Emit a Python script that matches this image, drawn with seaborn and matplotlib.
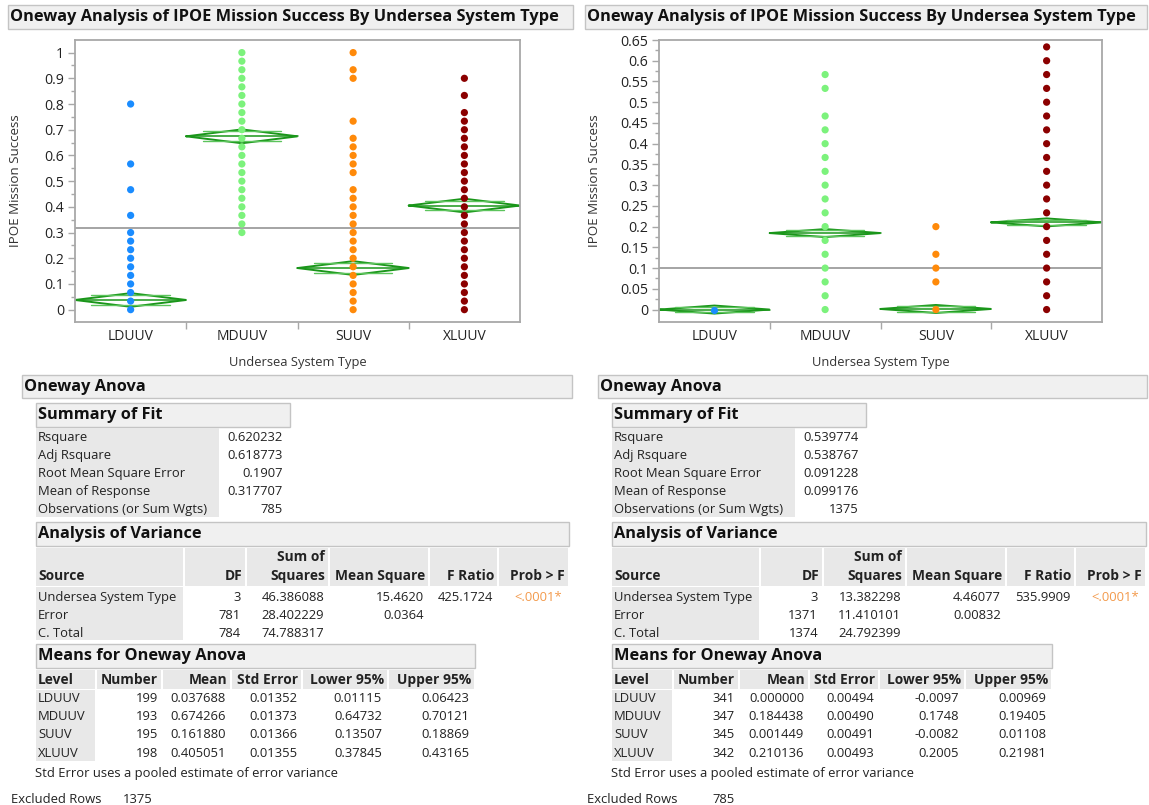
import numpy as np
import pandas as pd
import matplotlib
matplotlib.use("Agg")
import matplotlib.pyplot as plt
import seaborn as sns
from matplotlib.patches import Rectangle

sns.set_theme(style="white")
plt.rcParams['font.family'] = ['Open Sans', 'DejaVu Sans']

# ---------------- data ----------------
levels = ["LDUUV", "MDUUV", "SUUV", "XLUUV"]
dot_colors = ["#1a8cff", "#7cf27c", "#ff8a0a", "#8b0000"]

# left chart: distinct observed values per level
left_ld = [0, 0.0333, 0.0667, 0.1, 0.1333, 0.1667, 0.2, 0.2333, 0.2667, 0.3,
           0.3667, 0.4667, 0.5667, 0.8]
left_md = [0.3, 0.3333, 0.3667, 0.4, 0.4333, 0.4667, 0.5, 0.5333, 0.5667, 0.6,
           0.6333, 0.6667, 0.7, 0.7333, 0.7667, 0.8, 0.8333, 0.8667, 0.9, 0.9333,
           0.9667, 1.0]
left_su = [0, 0.0333, 0.0667, 0.1, 0.1333, 0.1667, 0.2, 0.2333, 0.2667, 0.3,
           0.3333, 0.3667, 0.4, 0.4333, 0.4667, 0.5333, 0.5667, 0.6, 0.6333,
           0.6667, 0.7333, 0.9, 0.9333, 1.0]
left_xl = [0, 0.0333, 0.0667, 0.1, 0.1333, 0.1667, 0.2, 0.2333, 0.2667, 0.3,
           0.3333, 0.3667, 0.4, 0.4333, 0.4667, 0.5, 0.5333, 0.5667, 0.6, 0.6333,
           0.6667, 0.7, 0.7333, 0.7667, 0.8333, 0.9]
left_mean = [0.037688, 0.674266, 0.161880, 0.405051]
left_lower = [0.01115, 0.64732, 0.13507, 0.37845]
left_upper = [0.06423, 0.70121, 0.18869, 0.43165]
left_grand_mean = 0.317707

# right chart
right_ld = [0]
right_md = [0, 0.0333, 0.0667, 0.1, 0.1333, 0.1667, 0.2, 0.2333, 0.2667, 0.3,
            0.3333, 0.3667, 0.4, 0.4333, 0.4667, 0.5333, 0.5667]
right_su = [0, 0.0667, 0.1, 0.1333, 0.2]
right_xl = [0, 0.0333, 0.0667, 0.1, 0.1333, 0.1667, 0.2, 0.2333, 0.2667, 0.3,
            0.3333, 0.3667, 0.4, 0.4333, 0.4667, 0.5, 0.5333, 0.5667, 0.6, 0.6333]
right_mean = [0.000000, 0.184438, 0.001449, 0.210136]
right_lower = [-0.0097, 0.1748, -0.0082, 0.2005]
right_upper = [0.00969, 0.19405, 0.01108, 0.21981]
right_grand_mean = 0.099176

left_yticks = [0, 0.1, 0.2, 0.3, 0.4, 0.5, 0.6, 0.7, 0.8, 0.9, 1]
left_ylabels = ["0", "0.1", "0.2", "0.3", "0.4", "0.5", "0.6", "0.7", "0.8", "0.9", "1"]
right_yticks = [0, 0.05, 0.1, 0.15, 0.2, 0.25, 0.3, 0.35, 0.4, 0.45, 0.5, 0.55, 0.6, 0.65]
right_ylabels = ["0", "0.05", "0.1", "0.15", "0.2", "0.25", "0.3", "0.35", "0.4",
                 "0.45", "0.5", "0.55", "0.6", "0.65"]

title_text = "Oneway Analysis of IPOE Mission Success By Undersea System Type"
y_title = "IPOE Mission Success"
x_title = "Undersea System Type"

fit_labels = ["Rsquare", "Adj Rsquare", "Root Mean Square Error", "Mean of Response",
              "Observations (or Sum Wgts)"]
left_fit = ["0.620232", "0.618773", "0.1907", "0.317707", "785"]
right_fit = ["0.539774", "0.538767", "0.091228", "0.099176", "1375"]

anova_sources = ["Undersea System Type", "Error", "C. Total"]
left_df = ["3", "781", "784"]
left_ss = ["46.386088", "28.402229", "74.788317"]
left_ms = ["15.4620", "0.0364", ""]
left_f = ["425.1724", "", ""]
left_p = ["<.0001*", "", ""]
right_df = ["3", "1371", "1374"]
right_ss = ["13.382298", "11.410101", "24.792399"]
right_ms = ["4.46077", "0.00832", ""]
right_f = ["535.9909", "", ""]
right_p = ["<.0001*", "", ""]

left_number = ["199", "193", "195", "198"]
left_mean_s = ["0.037688", "0.674266", "0.161880", "0.405051"]
left_se = ["0.01352", "0.01373", "0.01366", "0.01355"]
left_lo_s = ["0.01115", "0.64732", "0.13507", "0.37845"]
left_up_s = ["0.06423", "0.70121", "0.18869", "0.43165"]
right_number = ["341", "347", "345", "342"]
right_mean_s = ["0.000000", "0.184438", "0.001449", "0.210136"]
right_se = ["0.00494", "0.00490", "0.00491", "0.00493"]
right_lo_s = ["-0.0097", "0.1748", "-0.0082", "0.2005"]
right_up_s = ["0.00969", "0.19405", "0.01108", "0.21981"]

left_excluded = "1375"
right_excluded = "785"

# ---------------- figure helpers ----------------
W, H = 1149, 805
fig = plt.figure(figsize=(W / 100, H / 100), dpi=100)
fig.patch.set_facecolor("white")

TXT = "#222222"
HDR_FILL = "#f0f0f0"
HDR_EDGE = "#c4c4c4"
CELL_FILL = "#e8e8e8"
DGREEN = "#1a961a"
LGREEN = "#5cc45c"


def fx(x):
    return x / W


def fy(y):
    return 1 - y / H


def rect(x0, y0, x1, y1, fc, ec="none", lw=1.0):
    fig.patches.append(Rectangle((fx(x0), fy(y1)), (x1 - x0) / W, (y1 - y0) / H,
                                 transform=fig.transFigure, facecolor=fc,
                                 edgecolor=ec, linewidth=lw, zorder=0))


def txt(x, y, s, ha="left", size=9.4, weight="normal", color=TXT):
    fig.text(fx(x), fy(y), s, ha=ha, va="center", fontsize=size,
             fontweight=weight, color=color)


def header(x0, y0, x1, y1, s, size=11.8):
    rect(x0, y0, x1, y1, HDR_FILL, HDR_EDGE, 1.0)
    txt(x0 + 2, (y0 + y1) / 2, s, size=size, weight="bold", color="#111111")


# ---------------- charts ----------------
def draw_chart(px0, px1, groups, means, lows, ups, grand, ylim, yticks, ylabels,
               minor_step, ylab_x):
    ax = fig.add_axes([fx(px0), fy(322), (px1 - px0) / W, (322 - 40) / H])
    df = pd.DataFrame({
        x_title: np.repeat(levels, [len(g) for g in groups]),
        y_title: np.concatenate([np.asarray(g, dtype=float) for g in groups]),
    })
    for i, (m, lo, up) in enumerate(zip(means, lows, ups)):
        hw = 0.5
        ax.plot([i - hw, i, i + hw, i, i - hw], [m, up, m, lo, m],
                color=DGREEN, lw=1.4, zorder=2, solid_joinstyle="miter")
        ax.plot([i - hw, i + hw], [m, m], color=DGREEN, lw=1.1, zorder=2)
        d = (up - m) / np.sqrt(2)
        xe = hw * (1 - 1 / np.sqrt(2))
        for yy in (m + d, m - d):
            ax.plot([i - hw + xe, i + hw - xe], [yy, yy], color=LGREEN, lw=1.0, zorder=2)
    sns.stripplot(data=df, x=x_title, y=y_title, hue=x_title, order=levels,
                  hue_order=levels, palette=dot_colors, jitter=False, size=5.2,
                  linewidth=0, legend=False, ax=ax, zorder=3)
    ax.axhline(grand, color="#8c8c8c", lw=1.1, zorder=1)
    ax.set_xlim(-0.5, 3.5)
    ax.set_ylim(*ylim)
    ax.set_yticks(yticks)
    ax.set_yticklabels(ylabels)
    ax.set_yticks(np.arange(yticks[0] + minor_step, yticks[-1], minor_step * 2), minor=True)
    ax.set_xticks(range(4))
    ax.set_xticklabels(levels)
    ax.set_xticks([0.5, 1.5, 2.5], minor=True)
    ax.tick_params(axis="y", which="major", direction="out", length=5, width=1,
                   color="#a8a8a8", labelsize=10.2, labelcolor=TXT, pad=3, left=True)
    ax.tick_params(axis="y", which="minor", direction="out", length=3, width=1,
                   color="#a8a8a8", left=True)
    ax.tick_params(axis="x", which="major", length=0, labelsize=10,
                   labelcolor=TXT, pad=5)
    ax.tick_params(axis="x", which="minor", direction="out", length=5, width=1,
                   color="#a8a8a8", bottom=True)
    for sp in ax.spines.values():
        sp.set_color("#a8a8a8")
        sp.set_linewidth(1.3)
        sp.set_visible(True)
    ax.grid(False)
    ax.set_ylabel(y_title, fontsize=9.6, color="#333333")
    ax.set_xlabel(x_title, fontsize=9.3, color="#333333")
    ax.yaxis.set_label_coords((ylab_x - px0) / (px1 - px0), 0.5)
    ax.xaxis.set_label_coords(0.5, -(356 - 322) / 282)
    return ax


header(8, 5, 573, 29, title_text)
header(585, 5, 1147, 29, title_text)

draw_chart(75, 520, [left_ld, left_md, left_su, left_xl], left_mean, left_lower,
           left_upper, left_grand_mean, (-0.048, 1.049), left_yticks, left_ylabels,
           0.05, 22)
draw_chart(659, 1102, [right_ld, right_md, right_su, right_xl], right_mean,
           right_lower, right_upper, right_grand_mean, (-0.03, 0.65), right_yticks,
           right_ylabels, 0.025, 601)


# ---------------- report tables ----------------
def draw_report(ox, L, fit_vals, dfv, ssv, msv, fv, pv, num, mn, se, lo, up, excl):
    header(ox + 22, 375, L["oneway_r"], 398, "Oneway Anova")
    header(ox + 36, 403, L["fit_r"], 427, "Summary of Fit")
    rect(ox + 36, 428, L["fit_lab_r"], 517, CELL_FILL)
    for k, (lab, val) in enumerate(zip(fit_labels, fit_vals)):
        yy = 437.5 + k * 17.9
        txt(ox + 38, yy, lab)
        txt(L["fit_val_r"], yy, val, ha="right")

    header(ox + 36, 522, L["aov_r"], 546, "Analysis of Variance")
    cols = L["aov_cols"]
    for (c0, c1) in cols:
        rect(c0, 548, c1, 586, CELL_FILL)
    rect(cols[0][0], 587, cols[0][1], 640, CELL_FILL)
    hdrs = ["Source", "DF", "Squares", "Mean Square", "F Ratio", "Prob > F"]
    hb = 9.9
    for j, h in enumerate(hdrs):
        if j == 0:
            txt(cols[0][0] + 2, 576, h, weight="bold", size=hb)
        else:
            txt(cols[j][1] - 3, 576, h, ha="right", weight="bold", size=hb)
    txt(cols[2][1] - 3, 557, "Sum of", ha="right", weight="bold", size=hb)
    for k in range(3):
        yy = 597 + k * 18
        txt(cols[0][0] + 2, yy, anova_sources[k])
        txt(cols[1][1] - 4, yy, dfv[k], ha="right")
        txt(cols[2][1] - 4, yy, ssv[k], ha="right")
        txt(cols[3][1] - 4, yy, msv[k], ha="right")
        txt(cols[4][1] - 4, yy, fv[k], ha="right")
        txt(cols[5][1] - 6, yy, pv[k], ha="right", color="#f39a4c")

    header(ox + 36, 644, L["means_r"], 668, "Means for Oneway Anova")
    mc = L["means_cols"]
    for (c0, c1) in mc:
        rect(c0, 670, c1, 689, CELL_FILL)
    rect(mc[0][0], 690, mc[0][1], 761, CELL_FILL)
    mh = ["Level", "Number", "Mean", "Std Error", "Lower 95%", "Upper 95%"]
    for j, h in enumerate(mh):
        if j == 0:
            txt(mc[0][0] + 2, 680, h, weight="bold", size=hb)
        else:
            txt(mc[j][1] - 3, 680, h, ha="right", weight="bold", size=hb)
    for k in range(4):
        yy = 699 + k * 18
        txt(mc[0][0] + 2, yy, levels[k])
        txt(mc[1][1] - 3, yy, num[k], ha="right")
        txt(mc[2][1] - 4, yy, mn[k], ha="right")
        txt(mc[3][1] - 4, yy, se[k], ha="right")
        txt(mc[4][1] - 5, yy, lo[k], ha="right")
        txt(mc[5][1] - 5, yy, up[k], ha="right")
    txt(ox + 35, 773, "Std Error uses a pooled estimate of error variance")
    txt(ox + 11, 799, "Excluded Rows")
    txt(ox + 123 + (L["excl_dx"]), 799, excl)


L_left = dict(
    oneway_r=572, fit_r=290, fit_lab_r=219, fit_val_r=283, aov_r=569,
    aov_cols=[(36, 183), (185, 245), (247, 328), (330, 428), (430, 497), (499, 568)],
    means_r=475,
    means_cols=[(36, 95), (97, 161), (163, 230), (232, 301), (303, 387), (389, 474)],
    excl_dx=0,
)
L_right = dict(
    oneway_r=1147, fit_r=866, fit_lab_r=795, fit_val_r=859, aov_r=1146,
    aov_cols=[(612, 759), (761, 822), (824, 905), (907, 1005), (1007, 1074), (1076, 1145)],
    means_r=1052,
    means_cols=[(612, 672), (674, 738), (740, 808), (810, 878), (880, 964), (966, 1051)],
    excl_dx=13,
)

draw_report(0, L_left, left_fit, left_df, left_ss, left_ms, left_f, left_p,
            left_number, left_mean_s, left_se, left_lo_s, left_up_s, left_excluded)
draw_report(576, L_right, right_fit, right_df, right_ss, right_ms, right_f, right_p,
            right_number, right_mean_s, right_se, right_lo_s, right_up_s, right_excluded)

fig.savefig("out.png", dpi=100, facecolor="white")
